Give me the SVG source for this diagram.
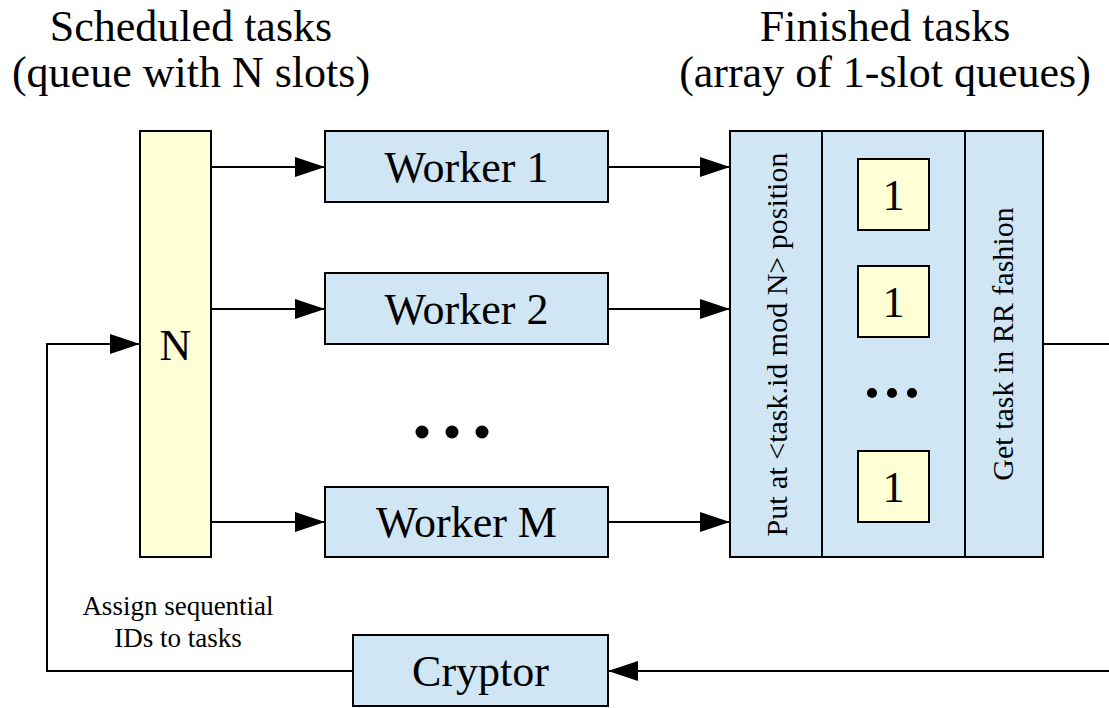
<svg xmlns="http://www.w3.org/2000/svg" width="1109" height="708" viewBox="0 0 1109 708" font-family="'Liberation Serif', serif">
<style>
text{font-family:'Liberation Serif',serif;fill:#000}
.t44{font-size:44px;text-anchor:middle}
.t30{font-size:30px;text-anchor:middle}
.t27{font-size:27px;text-anchor:middle}
.blue{fill:#d0e6f4;stroke:#000;stroke-width:2}
.yel{fill:#ffffd6;stroke:#000;stroke-width:2}
.ln{fill:none;stroke:#000;stroke-width:2}
</style>
<defs>
<marker id="ah" markerUnits="userSpaceOnUse" markerWidth="32" markerHeight="22" refX="31" refY="11" orient="auto">
<path d="M1,1 L31,11 L1,21 z" fill="#000"/>
</marker>
</defs>
<rect width="1109" height="708" fill="#fff"/>
<g id="titles">
<text class="t44" x="191" y="41">Scheduled tasks</text>
<text class="t44" x="191" y="87">(queue with N slots)</text>
<text class="t44" x="885" y="41">Finished tasks</text>
<text class="t44" x="885" y="87">(array of 1-slot queues)</text>
</g>
<g id="connectors">
<line class="ln" x1="211" y1="167" x2="325" y2="167" marker-end="url(#ah)"/>
<line class="ln" x1="211" y1="309" x2="325" y2="309" marker-end="url(#ah)"/>
<line class="ln" x1="211" y1="522" x2="325" y2="522" marker-end="url(#ah)"/>
<line class="ln" x1="608" y1="167" x2="730" y2="167" marker-end="url(#ah)"/>
<line class="ln" x1="608" y1="309" x2="730" y2="309" marker-end="url(#ah)"/>
<line class="ln" x1="608" y1="522" x2="730" y2="522" marker-end="url(#ah)"/>
<line class="ln" x1="1043" y1="344" x2="1110" y2="344"/>
<line class="ln" x1="1110" y1="671" x2="608" y2="671" marker-end="url(#ah)"/>
<polyline class="ln" points="353,671 47,671 47,344 140,344" marker-end="url(#ah)"/>
<text class="t27" x="178" y="615">Assign sequential</text>
<text class="t27" x="178" y="647">IDs to tasks</text>
</g>
<g id="scheduled">
<rect class="yel" x="140" y="131" width="71" height="426"/>
<text class="t44" x="175.5" y="360">N</text>
</g>
<g id="worker1">
<rect class="blue" x="325" y="131" width="283" height="71"/>
<text class="t44" x="466.5" y="182">Worker 1</text>
</g>
<g id="worker2">
<rect class="blue" x="325" y="273" width="283" height="71"/>
<text class="t44" x="466.5" y="324">Worker 2</text>
</g>
<g id="workerdots">
<circle cx="422" cy="432" r="6.5"/>
<circle cx="452" cy="432" r="6.5"/>
<circle cx="482" cy="432" r="6.5"/>
</g>
<g id="workerM">
<rect class="blue" x="325" y="487" width="283" height="70"/>
<text class="t44" x="466.5" y="537">Worker M</text>
</g>
<g id="finished">
<rect class="blue" x="730" y="131" width="313" height="426"/>
<line class="ln" x1="822" y1="131" x2="822" y2="557"/>
<line class="ln" x1="965" y1="131" x2="965" y2="557"/>
<text class="t30" transform="translate(787,344.5) rotate(-90)">Put at &lt;task.id mod N&gt; position</text>
<text class="t30" transform="translate(1013,344) rotate(-90)">Get task in RR fashion</text>
<rect class="yel" x="858" y="159" width="71" height="71"/>
<text class="t44" x="893.5" y="210">1</text>
<rect class="yel" x="858" y="266" width="71" height="71"/>
<text class="t44" x="893.5" y="317">1</text>
<circle cx="872" cy="393" r="5"/>
<circle cx="892" cy="393" r="5"/>
<circle cx="912" cy="393" r="5"/>
<rect class="yel" x="858" y="451" width="71" height="71"/>
<text class="t44" x="893.5" y="502">1</text>
</g>
<g id="cryptor">
<rect class="blue" x="353" y="635" width="255" height="71"/>
<text class="t44" x="480.5" y="686">Cryptor</text>
</g>
</svg>
